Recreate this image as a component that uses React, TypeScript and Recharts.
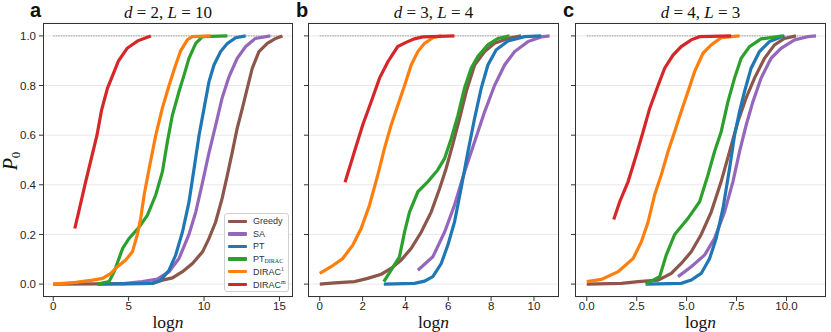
import React from 'react'
import { LineChart, Line, XAxis, YAxis, CartesianGrid, ReferenceLine } from 'recharts'

type Pt = [number, number]

// panel a : d = 2, L = 10
const greedyA: Pt[] = [[0, 0], [3, 0.001], [6.58, 0.003], [7.24, 0.016], [7.9, 0.025], [8.57, 0.05], [9.23, 0.083], [9.9, 0.13], [10.33, 0.184], [10.77, 0.25], [11.2, 0.345], [11.55, 0.44], [11.88, 0.534], [12.2, 0.628], [12.54, 0.708], [12.87, 0.79], [13.2, 0.87], [13.64, 0.937], [14.2, 0.97], [14.75, 0.99], [15.2, 1.0]]
const saA: Pt[] = [[4.5, 0.001], [5.9, 0.01], [6.9, 0.02], [7.68, 0.05], [8.34, 0.103], [9.0, 0.2], [9.45, 0.29], [9.9, 0.41], [10.33, 0.53], [10.77, 0.64], [11.2, 0.75], [11.66, 0.836], [12.2, 0.91], [12.76, 0.957], [13.4, 0.99], [14.4, 1.0]]
const ptA: Pt[] = [[2.94, 0], [6.58, 0.003], [7.13, 0.016], [7.68, 0.056], [8.12, 0.117], [8.57, 0.21], [9.0, 0.33], [9.34, 0.466], [9.67, 0.6], [10.0, 0.708], [10.33, 0.816], [10.66, 0.883], [11.1, 0.937], [11.55, 0.97], [12.1, 0.993], [12.76, 1.0]]
const ptDiracA: Pt[] = [[2.94, 0], [3.7, 0.01], [4.04, 0.05], [4.6, 0.144], [5.03, 0.184], [5.7, 0.23], [6.25, 0.278], [6.8, 0.36], [7.24, 0.453], [7.57, 0.574], [7.9, 0.68], [8.34, 0.776], [8.68, 0.843], [9.0, 0.91], [9.45, 0.97], [9.9, 0.997], [11.55, 1.0]]
const dirac1A: Pt[] = [[0, 0], [1.5, 0.007], [2.6, 0.016], [3.27, 0.023], [3.82, 0.043], [4.26, 0.07], [4.8, 0.097], [5.25, 0.13], [5.58, 0.2], [5.8, 0.265], [6.03, 0.36], [6.36, 0.466], [6.8, 0.6], [7.24, 0.71], [7.68, 0.8], [8.1, 0.88], [8.45, 0.94], [8.9, 0.985], [9.23, 0.997], [10.44, 1.0]]
const diracMA: Pt[] = [[1.43, 0.224], [1.8, 0.32], [2.1, 0.4], [2.5, 0.5], [2.9, 0.6], [3.2, 0.7], [3.6, 0.79], [4.0, 0.85], [4.33, 0.9], [4.9, 0.95], [5.6, 0.98], [6.47, 1.0]]

// panel b : d = 3, L = 4
const greedyB: Pt[] = [[0, 0], [0.69, 0.005], [1.62, 0.01], [2.24, 0.023], [2.87, 0.04], [3.33, 0.063], [3.8, 0.097], [4.27, 0.144], [4.74, 0.21], [5.2, 0.29], [5.6, 0.386], [5.9, 0.466], [6.2, 0.56], [6.53, 0.668], [6.84, 0.776], [7.23, 0.883], [7.7, 0.937], [8.16, 0.97], [8.79, 0.99], [9.4, 1.0]]
const saB: Pt[] = [[4.58, 0.056], [5.28, 0.11], [5.83, 0.21], [6.29, 0.318], [6.76, 0.453], [7.23, 0.574], [7.7, 0.695], [8.16, 0.8], [8.63, 0.883], [9.1, 0.937], [9.72, 0.977], [10.34, 0.996], [10.73, 1.0]]
const ptB: Pt[] = [[2.99, 0], [4.42, 0.003], [4.89, 0.012], [5.28, 0.03], [5.67, 0.083], [5.98, 0.157], [6.29, 0.25], [6.6, 0.386], [6.92, 0.534], [7.23, 0.668], [7.54, 0.79], [7.85, 0.883], [8.24, 0.944], [8.79, 0.98], [9.56, 0.997], [10.34, 1.0]]
const ptDiracB: Pt[] = [[2.99, 0.01], [3.33, 0.056], [3.72, 0.11], [3.96, 0.21], [4.19, 0.29], [4.58, 0.372], [5.05, 0.413], [5.51, 0.46], [5.83, 0.507], [6.14, 0.587], [6.45, 0.68], [6.76, 0.79], [7.07, 0.87], [7.38, 0.917], [7.85, 0.964], [8.32, 0.99], [8.86, 1.0]]
const dirac1B: Pt[] = [[0, 0.043], [0.53, 0.07], [1.07, 0.103], [1.54, 0.157], [1.93, 0.224], [2.32, 0.318], [2.71, 0.44], [3.02, 0.547], [3.33, 0.64], [3.64, 0.72], [3.96, 0.8], [4.27, 0.883], [4.58, 0.937], [4.89, 0.97], [5.28, 0.993], [5.67, 1.0]]
const diracMB: Pt[] = [[1.18, 0.41], [1.62, 0.534], [2.0, 0.64], [2.4, 0.735], [2.79, 0.83], [3.18, 0.896], [3.64, 0.957], [4.03, 0.974], [4.42, 0.988], [4.81, 0.996], [6.29, 1.0]]

// panel c : d = 4, L = 3
const greedyC: Pt[] = [[0, 0], [1.73, 0.003], [2.57, 0.01], [3.57, 0.016], [4.23, 0.043], [4.73, 0.083], [5.23, 0.13], [5.73, 0.2], [6.23, 0.29], [6.73, 0.413], [7.15, 0.534], [7.57, 0.655], [7.98, 0.75], [8.4, 0.83], [8.9, 0.91], [9.4, 0.964], [9.9, 0.99], [10.48, 1.0]]
const saC: Pt[] = [[4.57, 0.03], [5.23, 0.07], [5.9, 0.117], [6.4, 0.184], [6.9, 0.29], [7.32, 0.413], [7.65, 0.534], [7.98, 0.64], [8.32, 0.735], [8.73, 0.83], [9.23, 0.91], [9.73, 0.95], [10.4, 0.984], [11.07, 0.997], [11.48, 1.0]]
const ptC: Pt[] = [[2.95, 0], [4.73, 0.003], [5.23, 0.016], [5.73, 0.043], [6.15, 0.103], [6.48, 0.184], [6.82, 0.305], [7.15, 0.466], [7.4, 0.6], [7.65, 0.695], [7.9, 0.776], [8.23, 0.87], [8.65, 0.937], [9.15, 0.977], [9.73, 0.996], [9.9, 1.0]]
const ptDiracC: Pt[] = [[2.95, 0], [3.65, 0.03], [3.98, 0.117], [4.4, 0.2], [5.07, 0.265], [5.65, 0.332], [6.07, 0.44], [6.4, 0.534], [6.73, 0.614], [7.07, 0.735], [7.4, 0.83], [7.73, 0.91], [8.15, 0.957], [8.73, 0.988], [9.82, 1.0]]
const dirac1C: Pt[] = [[0, 0.01], [0.73, 0.019], [1.57, 0.05], [2.32, 0.103], [2.73, 0.17], [3.07, 0.25], [3.4, 0.36], [3.73, 0.44], [4.07, 0.534], [4.4, 0.614], [4.73, 0.695], [5.07, 0.776], [5.4, 0.856], [5.82, 0.93], [6.23, 0.964], [6.73, 0.993], [7.65, 1.0]]
const diracMC: Pt[] = [[1.35, 0.26], [1.65, 0.332], [2.07, 0.413], [2.48, 0.52], [2.82, 0.614], [3.15, 0.708], [3.57, 0.8], [3.9, 0.87], [4.32, 0.923], [4.73, 0.957], [5.23, 0.984], [5.65, 0.997], [7.23, 1.0]]

const seriesNames = ['Greedy', 'SA', 'PT', 'PT_DIRAC', 'DIRAC_1', 'DIRAC_m']
const seriesColors = ['#8c564b', '#9467bd', '#1f77b4', '#2ca02c', '#ff7f0e', '#d62728']
const yTicks = [0, 0.2, 0.4, 0.6, 0.8, 1.0]

const panels = [
  { letter: 'a', d: 2, L: 10, left: 43, right: 293, domain: [-0.68, 15.9], ticks: [0, 5, 10, 15], dec: 0, xEnd: 15.2, showY: true,
    series: [greedyA, saA, ptA, ptDiracA, dirac1A, diracMA] },
  { letter: 'b', d: 3, L: 4, left: 308, right: 559, domain: [-0.55, 11.17], ticks: [0, 2, 4, 6, 8, 10], dec: 0, xEnd: 10.73, showY: false,
    series: [greedyB, saB, ptB, ptDiracB, dirac1B, diracMB] },
  { letter: 'c', d: 4, L: 3, left: 575, right: 826, domain: [-0.59, 11.98], ticks: [0, 2.5, 5, 7.5, 10], dec: 1, xEnd: 11.48, showY: false,
    series: [greedyC, saC, ptC, ptDiracC, dirac1C, diracMC] },
]

const TOP = 23
const BOTTOM = 297
const H = 332
const sans = '"Liberation Sans", Arial, sans-serif'
const serif = '"Liberation Serif", "Times New Roman", serif'
const tickStyle = { fill: '#262626', fontSize: 11.5, fontFamily: sans }

const LegendLabel = ({ name }: { name: string }) => {
  if (name === 'PT_DIRAC') return <span>PT<span style={{ fontFamily: serif, fontSize: 6, verticalAlign: -1 }}>DIRAC</span></span>
  if (name === 'DIRAC_1') return <span>DIRAC<sup style={{ fontFamily: serif, fontSize: 6 }}>1</sup></span>
  if (name === 'DIRAC_m') return <span>DIRAC<sup style={{ fontFamily: serif, fontSize: 6 }}>m</sup></span>
  return <span>{name}</span>
}

function Panel({ p }: { p: typeof panels[number] }) {
  const yW = 30
  const w = p.right - p.left
  return (
    <>
      <LineChart
        width={yW + w + 14}
        height={H}
        margin={{ top: TOP, right: 14, bottom: 15, left: 0 }}
        style={{ position: 'absolute', left: p.left - yW, top: 0 }}
      >
        <CartesianGrid vertical={false} stroke="#e8e8e8" strokeWidth={1} />
        <XAxis
          type="number"
          dataKey="x"
          domain={p.domain}
          ticks={p.ticks}
          allowDataOverflow
          height={20}
          axisLine={false}
          tickSize={4}
          tickMargin={1}
          tickLine={{ stroke: '#333' }}
          tick={tickStyle}
          tickFormatter={(v: number) => v.toFixed(p.dec)}
        />
        <YAxis
          type="number"
          domain={[-0.052, 1.052]}
          ticks={yTicks}
          allowDataOverflow
          width={yW}
          axisLine={false}
          tickSize={4}
          tickMargin={3}
          tickLine={{ stroke: '#333' }}
          tick={tickStyle}
          tickFormatter={(v: number) => (p.showY ? v.toFixed(1) : '')}
        />
        <ReferenceLine
          segment={[{ x: 0, y: 1 }, { x: p.xEnd, y: 1 }]}
          stroke="#999"
          strokeWidth={1}
          strokeDasharray="1.5 1"
        />
        {p.series.map((s, i) => (
          <Line
            key={seriesNames[i]}
            data={s.map(([x, y]) => ({ x, y }))}
            dataKey="y"
            name={seriesNames[i]}
            stroke={seriesColors[i]}
            strokeWidth={3.2}
            dot={false}
            activeDot={false}
            type="linear"
            isAnimationActive={false}
          />
        ))}
      </LineChart>
      <div
        style={{
          position: 'absolute', left: p.left, top: TOP, width: w, height: BOTTOM - TOP,
          border: '1.5px solid #333', boxSizing: 'border-box', pointerEvents: 'none',
        }}
      />
    </>
  )
}

export default function App() {
  return (
    <div style={{ position: 'absolute', left: 0, top: 0, width: 831, height: H, background: '#fff', overflow: 'hidden' }}>
      {panels.map((p) => <Panel key={p.letter} p={p} />)}

      <svg width={831} height={H} style={{ position: 'absolute', left: 0, top: 0, pointerEvents: 'none' }}>
        {panels.map((p) => {
          const cx = (p.left + p.right) / 2
          const lx = p.letter === 'a' ? 30 : p.letter === 'b' ? 296 : 563
          return (
            <g key={p.letter}>
              <text x={lx} y={17} fontFamily={sans} fontWeight="bold" fontSize={20} fill="#111">{p.letter}</text>
              <text x={cx} y={18} textAnchor="middle" fontFamily={serif} fontSize={17} fill="#111">
                <tspan fontStyle="italic">d</tspan> = {p.d}, <tspan fontStyle="italic">L</tspan> = {p.L}
              </text>
              <text x={cx} y={327.5} textAnchor="middle" fontFamily={serif} fontSize={17.5} fill="#111">
                log<tspan fontStyle="italic">n</tspan>
              </text>
            </g>
          )
        })}
        <text transform="translate(17,161) rotate(-90)" textAnchor="middle" fontFamily={serif} fontSize={20} fill="#111">
          <tspan fontStyle="italic">P</tspan>
          <tspan fontSize={13} dy={3}>0</tspan>
        </text>
      </svg>

      <div
        style={{
          position: 'absolute', left: 224, top: 213, width: 65, height: 79, boxSizing: 'border-box',
          border: '1px solid #d0d0d0', borderRadius: 3, background: 'rgba(255,255,255,0.85)',
          fontFamily: sans, fontSize: 9, color: '#333', padding: '1px 0 0 3px',
        }}
      >
        {seriesNames.map((n, i) => (
          <div key={n} style={{ display: 'flex', alignItems: 'center', height: 12.6 }}>
            <span style={{ display: 'inline-block', width: 19, height: 3.5, background: seriesColors[i], marginRight: 6, borderRadius: 1 }} />
            <LegendLabel name={n} />
          </div>
        ))}
      </div>
    </div>
  )
}
